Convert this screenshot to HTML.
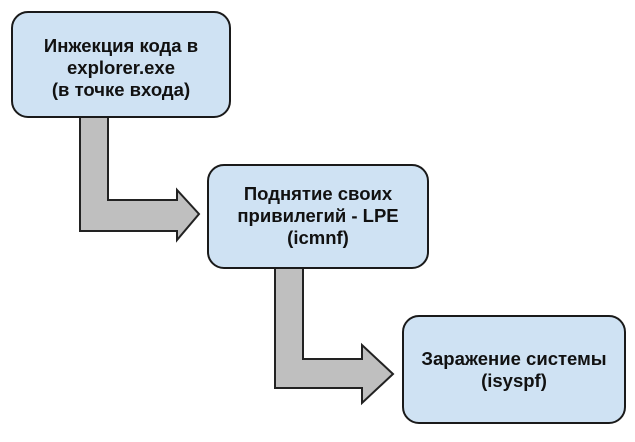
<!DOCTYPE html>
<html><head><meta charset="utf-8"><style>
body{margin:0;background:#fff;width:635px;height:437px;overflow:hidden}
text{font-family:"Liberation Sans",sans-serif;font-weight:bold;font-size:18.5px;fill:#111;text-anchor:middle}
</style></head><body>
<svg width="635" height="437" viewBox="0 0 635 437">
<g fill="#bfbfbf" stroke="#222" stroke-width="2" stroke-linejoin="miter">
<path d="M80,117 L108,117 L108,200 L177,200 L177,190 L199,214 L177,240 L177,231 L80,231 Z"/>
<path d="M275,267 L303,267 L303,359 L362,359 L362,345 L393,374 L362,403 L362,388 L275,388 Z"/>
</g>
<g fill="#cfe2f3" stroke="#1a1a1a" stroke-width="2">
<rect x="12" y="12" width="218" height="105" rx="16"/>
<rect x="208" y="165" width="220" height="103" rx="16"/>
<rect x="403" y="316" width="222" height="107" rx="16"/>
</g>
<text x="121" y="52">Инжекция кода в</text>
<text x="121" y="74">explorer.exe</text>
<text x="121" y="96">(в точке входа)</text>
<text x="318" y="200">Поднятие своих</text>
<text x="318" y="222">привилегий - LPE</text>
<text x="318" y="244">(icmnf)</text>
<text x="514" y="365">Заражение системы</text>
<text x="514" y="387">(isyspf)</text>
</svg>
</body></html>
